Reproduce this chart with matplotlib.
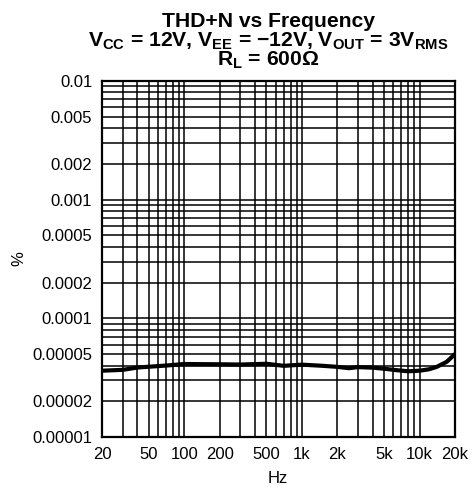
import numpy as np
import matplotlib
matplotlib.use("Agg")
import matplotlib.pyplot as plt
from matplotlib.ticker import FixedLocator, FixedFormatter, LogLocator, NullFormatter

plt.rcParams['font.family'] = ['Liberation Sans', 'DejaVu Sans']
plt.rcParams['mathtext.fontset'] = 'custom'
plt.rcParams['mathtext.bf'] = 'Liberation Sans:bold'
plt.rcParams['mathtext.rm'] = 'Liberation Sans'

# THD+N curve
freq = [20, 30, 40, 50, 70, 100, 200, 300, 500, 700, 1000, 1500, 2000, 2500, 3000, 4000,
        5000, 6500, 8000, 10000, 12000, 14000, 17000, 20000]
thdn = [3.62e-5, 3.68e-5, 3.85e-5, 3.91e-5, 4.0e-5, 4.12e-5, 4.1e-5, 4.08e-5, 4.14e-5, 3.98e-5,
        4.07e-5, 3.98e-5, 3.9e-5, 3.8e-5, 3.88e-5, 3.84e-5, 3.76e-5, 3.65e-5, 3.58e-5, 3.62e-5,
        3.72e-5, 3.9e-5, 4.3e-5, 5.0e-5]

xticks = [20, 50, 100, 200, 500, 1000, 2000, 5000, 10000, 20000]
xlabels = ['20', '50', '100', '200', '500', '1k', '2k', '5k', '10k', '20k']
yticks = [1e-5, 2e-5, 5e-5, 1e-4, 2e-4, 5e-4, 1e-3, 2e-3, 5e-3, 1e-2]
ylabels = ['0.00001', '0.00002', '0.00005', '0.0001', '0.0002', '0.0005',
           '0.001', '0.002', '0.005', '0.01']

title_lines = ['THD+N vs Frequency',
               r'$\mathbf{V_{CC}}$ = 12V, $\mathbf{V_{EE}}$ = −12V, $\mathbf{V_{OUT}}$ = 3$\mathbf{V_{RMS}}$',
               r'$\mathbf{R_{L}}$ = 600Ω']

W, H = 472, 494
fig = plt.figure(figsize=(W / 100, H / 100), dpi=100)
ax = fig.add_axes([102 / W, 1 - 437 / H, 353 / W, 356 / H])

ax.plot(freq, thdn, color='black', lw=3.0, solid_capstyle='round', zorder=3)
ax.set_xscale('log')
ax.set_yscale('log')
ax.set_xlim(20, 20000)
ax.set_ylim(1e-5, 1e-2)

ax.xaxis.set_major_locator(FixedLocator(xticks))
ax.xaxis.set_major_formatter(FixedFormatter(xlabels))
ax.yaxis.set_major_locator(FixedLocator(yticks))
ax.yaxis.set_major_formatter(FixedFormatter(ylabels))
ax.xaxis.set_minor_locator(LogLocator(base=10, subs=np.arange(1, 10)))
ax.yaxis.set_minor_locator(LogLocator(base=10, subs=np.arange(1, 10)))
ax.xaxis.set_minor_formatter(NullFormatter())
ax.yaxis.set_minor_formatter(NullFormatter())
ax.grid(True, which='both', color='black', lw=1.1)
ax.tick_params(which='both', length=0, labelsize=12, pad=7)
for s in ax.spines.values():
    s.set_linewidth(1.6)

# axis labels placed where the reference has them
fig.text(278 / W, 1 - 478 / H, 'Hz', fontsize=12, ha='center', va='center')
fig.text(19 / W, 1 - 259 / H, '%', fontsize=12, ha='center', va='center', rotation=90)

# title, one line at a time
for txt, base in zip(title_lines, [27, 47, 66]):
    fig.text(268 / W, 1 - base / H, txt, ha='center', va='baseline',
             fontsize=15.2, fontweight='bold')

fig.savefig('out.png', dpi=100)
